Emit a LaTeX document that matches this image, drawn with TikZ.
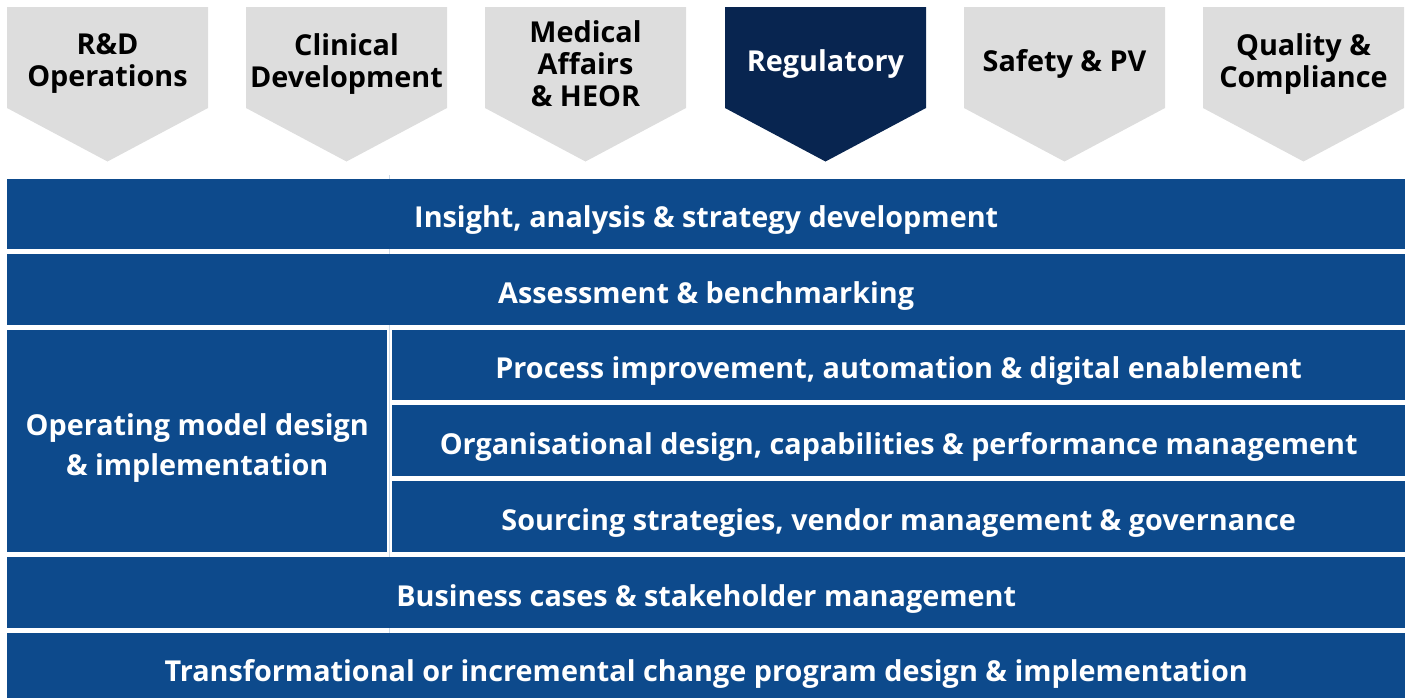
\documentclass[tikz,border=0pt]{standalone}
\usepackage{fontspec}
\setmainfont{Open Sans}
\usetikzlibrary{positioning}
\definecolor{rowblue}{RGB}{13,74,140}
\definecolor{navy}{RGB}{8,37,80}
\definecolor{tabgray}{RGB}{221,221,221}
\tikzset{
  cell/.style={rectangle, fill=rowblue, text=white, anchor=north west,
               inner sep=0pt, align=center,
               font=\bfseries\fontsize{28.8}{40}\selectfont},
  row/.style={cell, text height=27pt, text depth=0pt},
  tablabel/.style={align=center, inner sep=0pt,
                   font=\bfseries\fontsize{28.8}{32}\selectfont}
}

\begin{document}
\begin{tikzpicture}[x=1pt, y=-1pt]
  \useasboundingbox (0,0) rectangle (1408,697);

  % Function tabs (chevrons)
  \foreach \x/\nm/\fc/\tc/\txt in {
      7/rd/tabgray/black/{R\&D\\Operations},
      246/clin/tabgray/black/{Clinical\\Development},
      485/med/tabgray/black/{Medical\\Affairs\\\& HEOR},
      725/reg/navy/white/{Regulatory},
      964/safe/tabgray/black/{Safety \& PV},
      1203/qual/tabgray/black/{Quality \&\\Compliance}} {
    \fill[\fc] (\x,7) -- ++(201,0) -- ++(0,101) -- ++(-100.5,53.5)
       -- ++(-100.5,-53.5) -- cycle;
    \node[tablabel, text=\tc] (\nm) at (\x+100.5,64) {\txt};
  }

  % faint table rule behind the rows
  \draw[rowblue!20, line width=0.8pt] (389.5,175) -- (389.5,697);

  % Service rows
  \node[row, minimum width=1398pt, minimum height=70pt] (insight) at (7,179)
    {Insight, analysis \& strategy development};
  \node[row, minimum width=1398pt, minimum height=71pt] (assess) at (7,254)
    {Assessment \& benchmarking};
  \node[cell, minimum width=380pt, minimum height=222pt, text height=74pt,
        text depth=6pt] (opmodel) at (7,330)
    {Operating model design\\\& implementation};
  \node[row, minimum width=1013pt, minimum height=70pt] (process) at (392,330)
    {Process improvement, automation \& digital enablement};
  \node[row, minimum width=1013pt, minimum height=71pt] (org) at (392,405)
    {Organisational design, capabilities \& performance management};
  \node[row, minimum width=1013pt, minimum height=71pt] (source) at (392,481)
    {Sourcing strategies, vendor management \& governance};
  \node[row, minimum width=1398pt, minimum height=71pt] (business) at (7,557)
    {Business cases \& stakeholder management};
  \node[row, minimum width=1398pt, minimum height=70pt] (change) at (7,633)
    {Transformational or incremental change program design \& implementation};
\end{tikzpicture}
\end{document}
